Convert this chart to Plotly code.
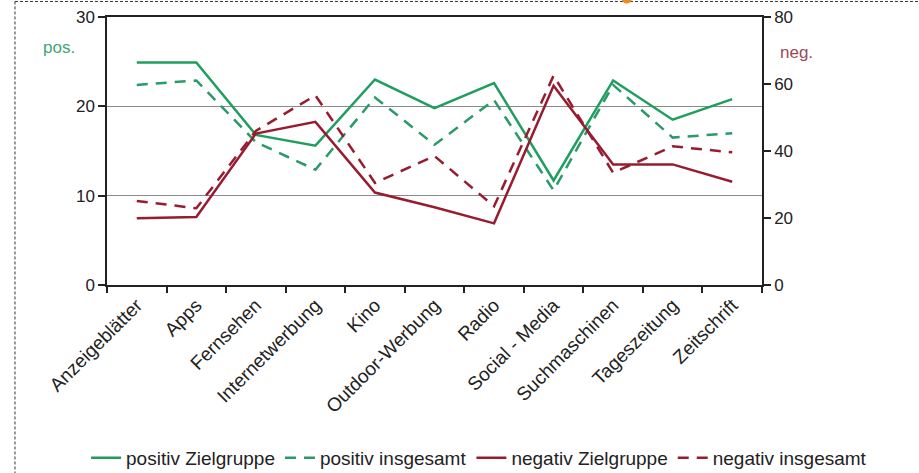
import plotly.graph_objects as go

# Werbeträger (categories on the x axis)
kategorien = [
    "Anzeigeblätter", "Apps", "Fernsehen", "Internetwerbung", "Kino",
    "Outdoor-Werbung", "Radio", "Social - Media", "Suchmaschinen",
    "Tageszeitung", "Zeitschrift",
]

# positive ratings (left axis, 0-30)
positiv_zielgruppe = [24.9, 24.9, 16.8, 15.6, 23.0, 19.8, 22.6, 11.7, 22.9, 18.5, 20.8]
positiv_insgesamt = [22.4, 22.9, 16.0, 12.9, 21.0, 15.7, 20.7, 10.6, 22.4, 16.5, 17.0]

# negative ratings (right axis, 0-80)
negativ_zielgruppe = [19.9, 20.3, 45.2, 48.7, 27.6, 23.2, 18.4, 59.5, 36.0, 36.0, 30.8]
negativ_insgesamt = [25.1, 22.9, 46.0, 56.6, 30.5, 38.5, 23.5, 62.5, 33.5, 41.4, 39.6]

links_ticks = [0, 10, 20, 30]
rechts_ticks = [0, 20, 40, 60, 80]

GRUEN = "#1f9e5e"
GRUEN_D = "#2a9a68"
ROT = "#971c30"
FONT = "Liberation Sans, Arial, sans-serif"

fig = go.Figure()
fig.add_trace(go.Scatter(x=kategorien, y=positiv_zielgruppe, name="positiv Zielgruppe",
                         mode="lines", line=dict(color=GRUEN, width=2.5)))
fig.add_trace(go.Scatter(x=kategorien, y=positiv_insgesamt, name="positiv insgesamt",
                         mode="lines", line=dict(color=GRUEN_D, width=2.5, dash="11px,8px")))
fig.add_trace(go.Scatter(x=kategorien, y=negativ_zielgruppe, name="negativ Zielgruppe",
                         mode="lines", line=dict(color=ROT, width=2.5), yaxis="y2"))
fig.add_trace(go.Scatter(x=kategorien, y=negativ_insgesamt, name="negativ insgesamt",
                         mode="lines", line=dict(color=ROT, width=2.5, dash="11px,8px"),
                         yaxis="y2"))

fig.update_layout(
    width=919, height=473,
    margin=dict(l=107, r=157, t=17, b=188, autoexpand=False),
    paper_bgcolor="white", plot_bgcolor="white",
    font=dict(family=FONT, size=16, color="#222"),
    xaxis=dict(
        type="category", range=[-0.5, len(kategorien) - 0.5],
        tickson="boundaries", ticks="outside", ticklen=6,
        tickcolor="#222", tickwidth=1.5, tickangle=-45,
        showline=True, linecolor="#222", linewidth=1.5, mirror=True,
        showgrid=False, tickfont=dict(size=19, color="#222"),
    ),
    yaxis=dict(
        range=[0, 30], tickvals=links_ticks, ticks="outside", ticklen=7,
        tickcolor="#222", tickwidth=1.5,
        showline=True, linecolor="#222", linewidth=1.5,
        showgrid=True, gridcolor="#8a8a8a", gridwidth=1, zeroline=False,
        tickfont=dict(size=17, color="#222"),
    ),
    yaxis2=dict(
        range=[0, 80], tickvals=rechts_ticks, overlaying="y", side="right",
        ticks="outside", ticklen=7, tickcolor="#222", tickwidth=1.5,
        showline=True, linecolor="#222", linewidth=1.5,
        showgrid=False, zeroline=False, tickfont=dict(size=17, color="#222"),
    ),
    legend=dict(
        orientation="h", x=1.168, xanchor="right", y=-0.645, yanchor="middle",
        font=dict(size=19, color="#222"), itemwidth=30, tracegroupgap=0,
        bgcolor="rgba(0,0,0,0)",
    ),
    showlegend=True,
)

# axis captions
fig.add_annotation(text="pos.", xref="paper", yref="paper", x=-0.046, y=0.888,
                   xanchor="right", yanchor="middle", showarrow=False,
                   font=dict(size=17, color="#3aa874"))
fig.add_annotation(text="neg.", xref="paper", yref="paper", x=1.024, y=0.866,
                   xanchor="left", yanchor="middle", showarrow=False,
                   font=dict(size=17, color="#9c4a55"))

# dashed outer frame (top and left edges) and the small orange marker at the top
fig.add_shape(type="line", xref="paper", yref="paper", x0=-0.1405, x1=1.24,
              y0=1.058, y1=1.058, line=dict(color="#333", width=1, dash="3px,2px"))
fig.add_shape(type="line", xref="paper", yref="paper", x0=-0.1405, x1=-0.1405,
              y0=1.058, y1=-0.72, line=dict(color="#333", width=1, dash="3px,2px"))
fig.add_shape(type="circle", xref="paper", yref="paper", x0=0.786, x1=0.801,
              y0=1.05, y1=1.084, fillcolor="#f08a1c", line=dict(width=0))

fig.write_html("out.html")
